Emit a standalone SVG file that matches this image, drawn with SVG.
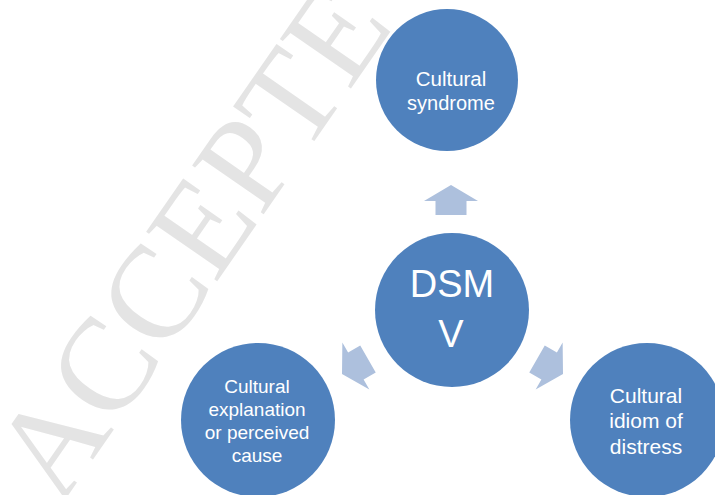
<svg xmlns="http://www.w3.org/2000/svg" width="715" height="495" viewBox="0 0 715 495">
<style>
.node{fill:#4f81bd}
.lbl{fill:#ffffff;font-family:"Liberation Sans",Arial,sans-serif;text-anchor:middle}
.arrow{fill:#adc0dd}
.wm{fill:#e4e4e4;font-family:"Liberation Serif","Times New Roman",serif}
</style>
<defs>
<polygon id="blockArrow" points="0,0 27,16 15.5,16 15.5,30 -15.5,30 -15.5,16 -27,16"/>
</defs>
<rect width="715" height="495" fill="#ffffff"/>
<text class="wm" font-size="132" transform="translate(60,507) rotate(-55.2)">ACCEPTE</text>
<g id="connectors" class="arrow">
<use href="#blockArrow" transform="translate(451,185)"/>
<use href="#blockArrow" transform="translate(342,374) rotate(-120)"/>
<use href="#blockArrow" transform="translate(563,374) rotate(120)"/>
</g>
<g id="node-syndrome">
<circle class="node" cx="447" cy="80" r="71"/>
<text class="lbl" font-size="20.5" x="451" y="86">Cultural</text>
<text class="lbl" font-size="20" x="451" y="110">syndrome</text>
</g>
<g id="node-dsm">
<circle class="node" cx="452" cy="310" r="77"/>
<text class="lbl" font-size="38" x="452" y="297">DSM</text>
<text class="lbl" font-size="38" x="451" y="347">V</text>
</g>
<g id="node-explanation">
<circle class="node" cx="258" cy="420" r="77"/>
<text class="lbl" font-size="19" x="257" y="393">Cultural</text>
<text class="lbl" font-size="19" x="257" y="416">explanation</text>
<text class="lbl" font-size="19" x="257" y="439">or perceived</text>
<text class="lbl" font-size="19" x="257" y="462">cause</text>
</g>
<g id="node-idiom">
<circle class="node" cx="647" cy="420" r="77"/>
<text class="lbl" font-size="21" x="646" y="403">Cultural</text>
<text class="lbl" font-size="21" x="646" y="428">idiom of</text>
<text class="lbl" font-size="21" x="646" y="454">distress</text>
</g>
</svg>
